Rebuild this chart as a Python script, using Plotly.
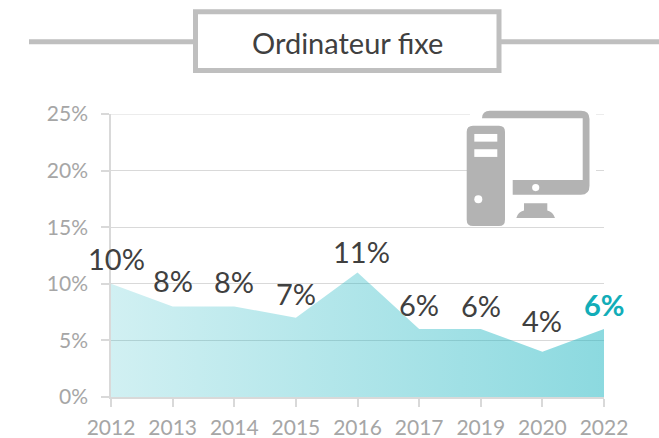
import plotly.graph_objects as go

years = ["2012", "2013", "2014", "2015", "2016", "2017", "2019", "2020", "2022"]
values = [10, 8, 8, 7, 11, 6, 6, 4, 6]
y_ticks = [0, 5, 10, 15, 20, 25]
title_text = "Ordinateur fixe"
label_dx = [5, 0, 0, 0, 4, 0, 0, 0, 0]
label_dy = [-25, -26, -25, -24, -21, -25, -24, -31, -25]

W, H = 659, 438
L, R, T, B = 111, 55, 114, 40.5
pw, ph = W - L - R, H - T - B


def fx(x):
    return (x - L) / pw


def fy(y):
    return 1 - (y - T) / ph


def path(cmds):
    out = []
    for c in cmds:
        if c == "Z":
            out.append("Z")
        else:
            op, *pts = c
            out.append(op + " ".join(f"{fx(pts[i]):.5f},{fy(pts[i+1]):.5f}" for i in range(0, len(pts), 2)))
    return " ".join(out)


def pshape(cmds, fill):
    return dict(type="path", xref="paper", yref="paper", path=path(cmds), fillcolor=fill, line_width=0, layer="above")


def rect(x0, y0, x1, y1, fill, line=None, lw=0):
    return dict(type="rect", xref="paper", yref="paper", x0=fx(x0), x1=fx(x1), y0=fy(y0), y1=fy(y1),
                fillcolor=fill, line=dict(color=line or fill, width=lw), layer="above")


def circle(cx, cy, r, fill):
    return dict(type="circle", xref="paper", yref="paper", x0=fx(cx - r), x1=fx(cx + r), y0=fy(cy - r), y1=fy(cy + r),
                fillcolor=fill, line_width=0, layer="above")


ICON = "#b3b3b3"
shapes = [
    # top gridline, which plotly leaves out at the end of the axis range
    dict(type="line", xref="paper", yref="y", x0=0, x1=1, y0=y_ticks[-1], y1=y_ticks[-1],
         line=dict(color="#d9d9d9", width=1.2), layer="below"),
    # header rule and box
    dict(type="line", xref="paper", yref="paper", x0=fx(29), x1=fx(659), y0=fy(41.5), y1=fy(41.5),
         line=dict(color="#bfbfbf", width=5, ), layer="above"),
    rect(195.5, 11.5, 499, 70.5, "#ffffff", "#bfbfbf", 5),
    # white backing of the icon
    rect(470, 104, 596, 225, "#ffffff"),
    # monitor
    pshape([("M", 482, 118.3), ("Q", 482, 110.7, 490, 110.7), ("L", 581, 110.7), ("Q", 589.5, 110.7, 589.5, 119),
            ("L", 589.5, 186), ("Q", 589.5, 195, 581, 195), ("L", 512.7, 195), ("L", 512.7, 180), ("L", 582.7, 180),
            ("L", 582.7, 118.3), "Z"], ICON),
    circle(535.7, 187.7, 3.6, "#ffffff"),
    # stand
    pshape([("M", 524, 203.3), ("L", 547.3, 203.3), ("L", 547.3, 210.7), ("Q", 553, 212, 555, 218.3), ("L", 516.3, 218.3),
            ("Q", 518, 212, 524, 210.7), "Z"], ICON),
    # tower
    pshape([("M", 466.7, 132), ("Q", 466.7, 125.7, 473, 125.7), ("L", 499, 125.7), ("Q", 505, 125.7, 505, 132),
            ("L", 505, 220), ("Q", 505, 226.3, 499, 226.3), ("L", 473, 226.3), ("Q", 466.7, 226.3, 466.7, 220), "Z"], ICON),
    rect(474.3, 134, 497.3, 141.7, "#ffffff"),
    rect(474.3, 149.3, 497.3, 157, "#ffffff"),
    circle(478.3, 199.3, 4, "#ffffff"),
]

fig = go.Figure(
    go.Scatter(
        x=list(range(len(years))),
        y=values,
        mode="none",
        fill="tozeroy",
        fillgradient=dict(
            type="horizontal",
            colorscale=[[0, "rgba(25,180,192,0.20)"], [1, "rgba(25,180,192,0.50)"]],
        ),
        hoverinfo="skip",
    )
)

annotations = [
    dict(x=i, y=v, text=f"{v}%", showarrow=False, xshift=label_dx[i], yshift=-label_dy[i],
         xanchor="center", yanchor="middle",
         font=dict(family="Lato", size=29,
                   color="#404040" if i < len(years) - 1 else "#12adb8",
                   weight=400 if i < len(years) - 1 else 700))
    for i, v in enumerate(values)
]
annotations.append(
    dict(xref="paper", yref="paper", x=fx(347), y=fy(42.5), text=title_text, showarrow=False,
         xanchor="center", yanchor="middle", font=dict(family="Lato", size=29, color="#404040"))
)

fig.update_layout(
    width=W, height=H, autosize=False,
    margin=dict(l=L, r=R, t=T, b=B, pad=0, autoexpand=False),
    paper_bgcolor="#ffffff", plot_bgcolor="#ffffff",
    showlegend=False,
    shapes=shapes, annotations=annotations,
    xaxis=dict(
        tickmode="array", tickvals=list(range(len(years))), ticktext=years,
        range=[0, len(years) - 1], showgrid=False, zeroline=False, automargin=False,
        showline=True, linecolor="#d9d9d9", linewidth=1.5,
        ticks="outside", ticklen=8, tickcolor="#d9d9d9", tickwidth=1.5, ticklabelstandoff=3,
        tickfont=dict(family="Lato", size=21, color="#a6a6a6"),
    ),
    yaxis=dict(
        tickmode="array", tickvals=y_ticks, ticktext=[f"{t}%" for t in y_ticks],
        range=[0, 25], showgrid=True, gridcolor="#d9d9d9", gridwidth=1.2, zeroline=False, automargin=False,
        showline=True, linecolor="#d9d9d9", linewidth=1.5,
        ticks="outside", ticklen=8, tickcolor="#d9d9d9", tickwidth=1.5, ticklabelstandoff=9,
        tickfont=dict(family="Lato", size=21, color="#a6a6a6"),
    ),
)

fig.write_html("out.html", config=dict(displayModeBar=False),
               post_script="document.body.style.margin='0';")
